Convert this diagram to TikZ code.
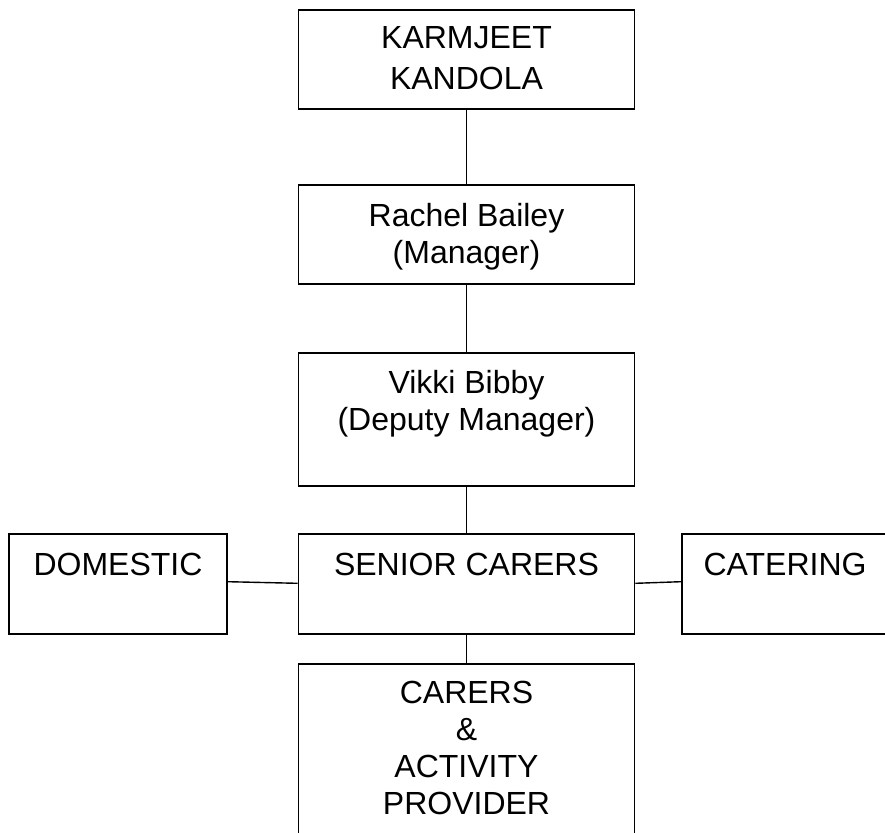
\documentclass[tikz,border=0pt]{standalone}
\usepackage{fontspec}
\setmainfont{Liberation Sans}
\begin{document}
\begin{tikzpicture}[x=1pt,y=-1pt,
  box/.style={draw=black,line width=1.8pt,inner sep=0pt,fill=none},
  txt/.style={anchor=base,inner sep=0pt,font=\fontsize{32}{38}\selectfont},
  link/.style={draw=black,line width=1.4pt}]
\clip (0,0) rectangle (885,832);
\fill[white] (0,0) rectangle (885,832);
% boxes
\node[box,minimum width=336pt,minimum height=99pt] (k) at (466.5,59.5) {};
\node[box,minimum width=336pt,minimum height=99pt] (r) at (466.5,234.5) {};
\node[box,minimum width=336pt,minimum height=133pt] (v) at (466.5,419.5) {};
\node[box,minimum width=336pt,minimum height=100pt] (s) at (466.5,584) {};
\node[box,minimum width=218pt,minimum height=100pt] (d) at (118,584) {};
\node[box,minimum width=230pt,minimum height=100pt] (c) at (797,584) {};
\node[box,minimum width=336pt,minimum height=190pt] (p) at (466.5,759) {};
% texts
\node[txt] (k1) at (466.5,48.3) {KARMJEET};
\node[txt] (k2) at (466.5,90) {KANDOLA};
\node[txt] (r1) at (466.5,226.7) {Rachel Bailey};
\node[txt] (r2) at (466.5,263.3) {(Manager)};
\node[txt] (v1) at (466.5,393.3) {Vikki Bibby};
\node[txt] (v2) at (466.5,430) {(Deputy Manager)};
\node[txt] (s1) at (466.5,575) {SENIOR CARERS};
\node[txt] (d1) at (118,575) {DOMESTIC};
\node[txt] (c1) at (785,575) {CATERING};
\node[txt] (p1) at (466.5,703.3) {CARERS};
\node[txt] (p2) at (466.5,740.5) {\&};
\node[txt] (p3) at (466.5,777.7) {ACTIVITY};
\node[txt] (p4) at (466.5,814.9) {PROVIDER};
% connectors
\draw[link] (k.south) -- (r.north);
\draw[link] (r.south) -- (v.north);
\draw[link] (v.south) -- (s.north);
\draw[link] (s.south) -- (p.north);
\draw[link] ([yshift=2.3pt]d.east) -- ([yshift=0.7pt]s.west);
\draw[link] ([yshift=0.7pt]s.east) -- ([yshift=2.3pt]c.west);
\end{tikzpicture}
\end{document}
